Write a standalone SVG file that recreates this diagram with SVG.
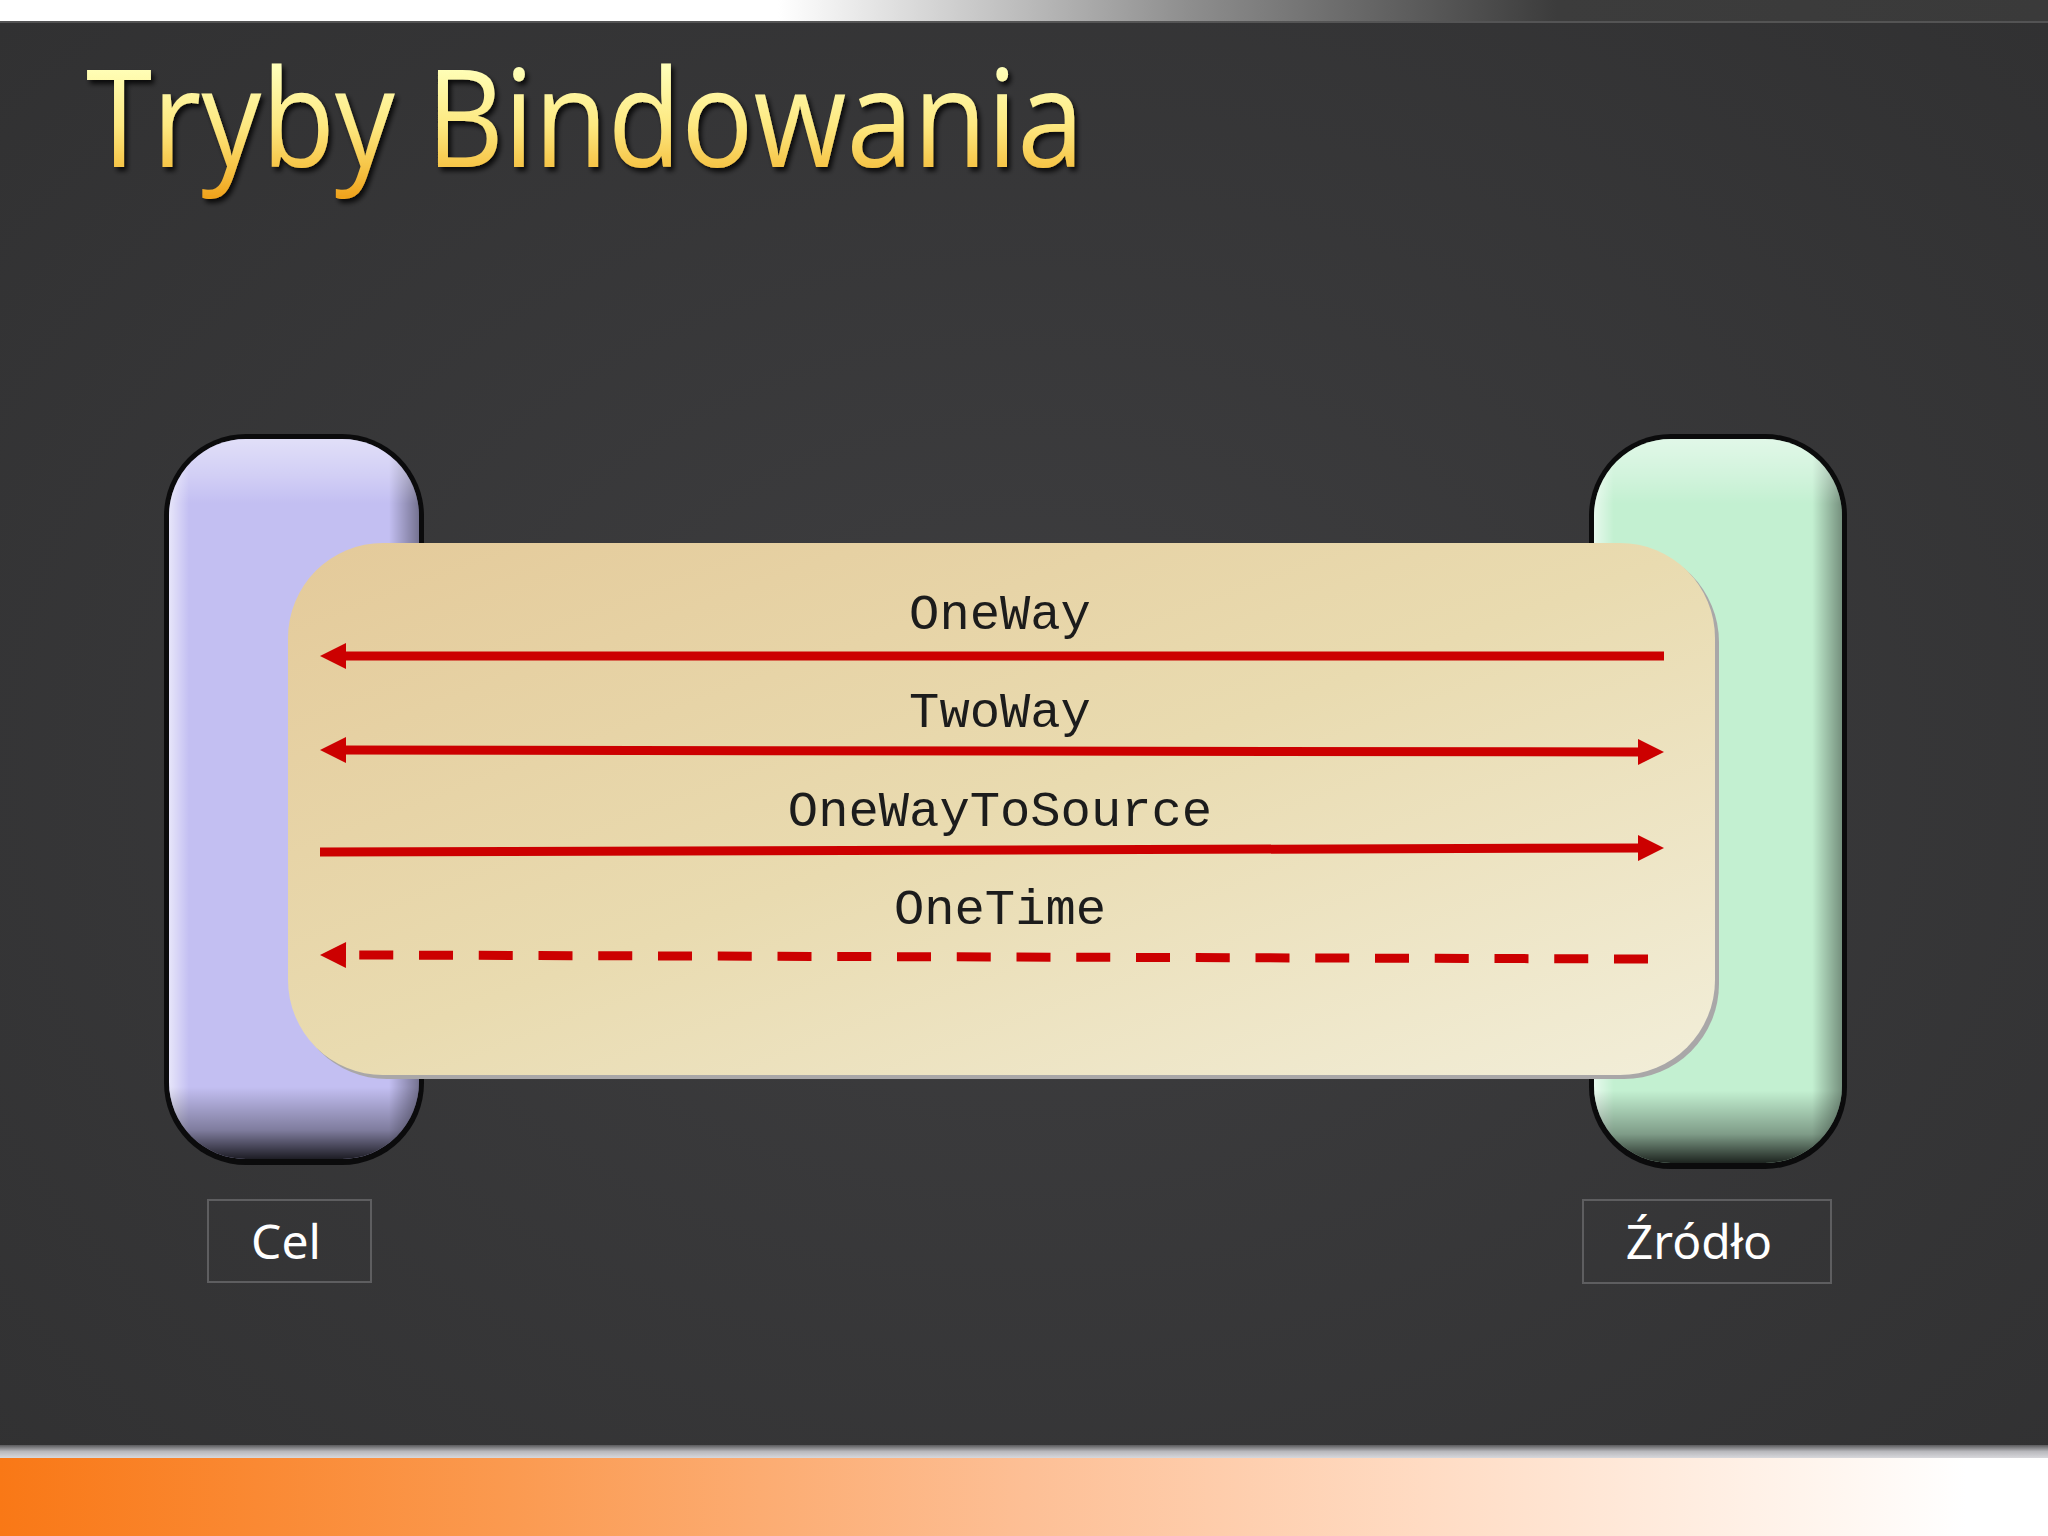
<svg xmlns="http://www.w3.org/2000/svg" width="2048" height="1536" viewBox="0 0 2048 1536">
  <defs>
    <radialGradient id="bgGrad" cx="0.5" cy="0.5" r="0.75">
      <stop offset="0" stop-color="#3e3e40"/>
      <stop offset="1" stop-color="#303031"/>
    </radialGradient>
    <linearGradient id="topBar" x1="0" y1="0" x2="1" y2="0">
      <stop offset="0" stop-color="#ffffff"/>
      <stop offset="0.38" stop-color="#ffffff"/>
      <stop offset="0.58" stop-color="#8e8e8e"/>
      <stop offset="0.76" stop-color="#3c3c3c"/>
      <stop offset="1" stop-color="#3a3a3a"/>
    </linearGradient>
    <linearGradient id="greyStrip" x1="0" y1="0" x2="0" y2="1">
      <stop offset="0" stop-color="#5a5a5c"/>
      <stop offset="0.5" stop-color="#b8b8bc"/>
      <stop offset="1" stop-color="#d8d8dc"/>
    </linearGradient>
    <linearGradient id="orangeBar" x1="0" y1="0" x2="1" y2="0">
      <stop offset="0" stop-color="#f97816"/>
      <stop offset="0.25" stop-color="#fb9a50"/>
      <stop offset="0.5" stop-color="#fdbf95"/>
      <stop offset="0.7" stop-color="#ffdcc4"/>
      <stop offset="0.88" stop-color="#fff4ec"/>
      <stop offset="0.96" stop-color="#ffffff"/>
    </linearGradient>
    <linearGradient id="titleGrad" gradientUnits="userSpaceOnUse" x1="0" y1="68" x2="0" y2="196">
      <stop offset="0" stop-color="#ffffb8"/>
      <stop offset="0.45" stop-color="#fde880"/>
      <stop offset="0.78" stop-color="#f6c446"/>
      <stop offset="1" stop-color="#f0a41e"/>
    </linearGradient>
    <filter id="titleShadow" x="-5%" y="-20%" width="110%" height="150%">
      <feDropShadow dx="3" dy="4" stdDeviation="2.5" flood-color="#000000" flood-opacity="0.8"/>
    </filter>
    <linearGradient id="hShade" x1="0" y1="0" x2="1" y2="0">
      <stop offset="0" stop-color="#ffffff" stop-opacity="0.6"/>
      <stop offset="0.08" stop-color="#ffffff" stop-opacity="0"/>
      <stop offset="0.88" stop-color="#000000" stop-opacity="0"/>
      <stop offset="1" stop-color="#000000" stop-opacity="0.4"/>
    </linearGradient>
    <linearGradient id="vShade" x1="0" y1="0" x2="0" y2="1">
      <stop offset="0" stop-color="#ffffff" stop-opacity="0.5"/>
      <stop offset="0.05" stop-color="#ffffff" stop-opacity="0.25"/>
      <stop offset="0.09" stop-color="#ffffff" stop-opacity="0"/>
      <stop offset="0.9" stop-color="#000000" stop-opacity="0"/>
      <stop offset="0.96" stop-color="#000000" stop-opacity="0.35"/>
      <stop offset="1" stop-color="#000000" stop-opacity="0.85"/>
    </linearGradient>
    <linearGradient id="panelGrad" x1="0" y1="0" x2="1" y2="1">
      <stop offset="0" stop-color="#e4ca9a"/>
      <stop offset="0.5" stop-color="#e9dbb0"/>
      <stop offset="1" stop-color="#f2eed9"/>
    </linearGradient>
    <marker id="head" viewBox="0 0 26 26" refX="6" refY="13" markerWidth="26" markerHeight="26" markerUnits="userSpaceOnUse" orient="auto-start-reverse">
      <path d="M0,0 L26,13 L0,26 z" fill="#cc0000"/>
    </marker>
    <marker id="headFar" viewBox="0 0 26 26" refX="-13" refY="13" markerWidth="26" markerHeight="26" markerUnits="userSpaceOnUse" orient="auto" overflow="visible">
      <path d="M0,0 L26,13 L0,26 z" fill="#cc0000"/>
    </marker>
    <style>
      .outline { fill: #0b0b0c; }
      .hshade { fill: url(#hShade); }
      .vshade { fill: url(#vShade); }
      .conn { stroke: #cc0000; stroke-width: 9; fill: none; }
      .dash { stroke-dasharray: 34 25.75; }
      .mode { font-family: "Liberation Mono", "Courier New", monospace; font-size: 50.5px; fill: #1c1c1c; text-anchor: middle; }
      .lbox { fill: none; stroke: #5e5e60; stroke-width: 2; }
      .ltext { font-family: "Noto Sans", "Open Sans", sans-serif; font-size: 48px; fill: #ffffff; text-anchor: middle; }
    </style>
  </defs>

  <!-- background -->
  <rect x="0" y="0" width="2048" height="1536" fill="url(#bgGrad)"/>
  <rect x="0" y="0" width="2048" height="21" fill="url(#topBar)"/>
  <rect x="0" y="21" width="2048" height="2" fill="#6a6a6a" opacity="0.6"/>
  <rect x="0" y="1445" width="2048" height="13" fill="url(#greyStrip)"/>
  <rect x="0" y="1458" width="2048" height="78" fill="url(#orangeBar)"/>

  <!-- title -->
  <text x="86" y="167" font-family="Open Sans, Noto Sans, sans-serif" font-size="136" fill="url(#titleGrad)" filter="url(#titleShadow)" textLength="998" lengthAdjust="spacingAndGlyphs">Tryby Bindowania</text>

  <!-- Cel node (target) -->
  <g id="node-cel">
    <rect class="outline" x="164" y="434" width="260" height="731" rx="82"/>
    <rect x="169" y="439" width="250" height="720" rx="77" fill="#c3bff2"/>
    <rect class="hshade" x="169" y="439" width="250" height="720" rx="77"/>
    <rect class="vshade" x="169" y="439" width="250" height="720" rx="77"/>
  </g>

  <!-- Zrodlo node (source) -->
  <g id="node-zrodlo">
    <rect class="outline" x="1589" y="434" width="258" height="735" rx="82"/>
    <rect x="1594" y="439" width="248" height="724" rx="77" fill="#c3f0d1"/>
    <rect class="hshade" x="1594" y="439" width="248" height="724" rx="77"/>
    <rect class="vshade" x="1594" y="439" width="248" height="724" rx="77"/>
  </g>

  <!-- binding panel -->
  <g id="panel-binding">
    <rect x="292" y="547" width="1427" height="532" rx="95" fill="#a9a7a8"/>
    <rect x="288" y="543" width="1427" height="532" rx="95" fill="url(#panelGrad)"/>
    <text class="mode" x="1000" y="629">OneWay</text>
    <text class="mode" x="1000" y="727">TwoWay</text>
    <text class="mode" x="1000" y="826">OneWayToSource</text>
    <text class="mode" x="1000" y="924">OneTime</text>
  </g>

  <!-- connectors -->
  <g id="connectors">
    <line class="conn" x1="1664" y1="656" x2="340" y2="656" marker-end="url(#head)"/>
    <line class="conn" x1="340" y1="750" x2="1644" y2="752" marker-start="url(#head)" marker-end="url(#head)"/>
    <line class="conn" x1="320" y1="852" x2="1644" y2="848" marker-end="url(#head)"/>
    <line class="conn dash" x1="1648" y1="959" x2="359" y2="955" marker-end="url(#headFar)"/>
  </g>

  <!-- labels -->
  <g id="label-cel">
    <rect class="lbox" x="208" y="1200" width="163" height="82"/>
    <text class="ltext" x="286" y="1259">Cel</text>
  </g>
  <g id="label-zrodlo">
    <rect class="lbox" x="1583" y="1200" width="248" height="83"/>
    <text class="ltext" x="1699" y="1259">Źródło</text>
  </g>
</svg>
